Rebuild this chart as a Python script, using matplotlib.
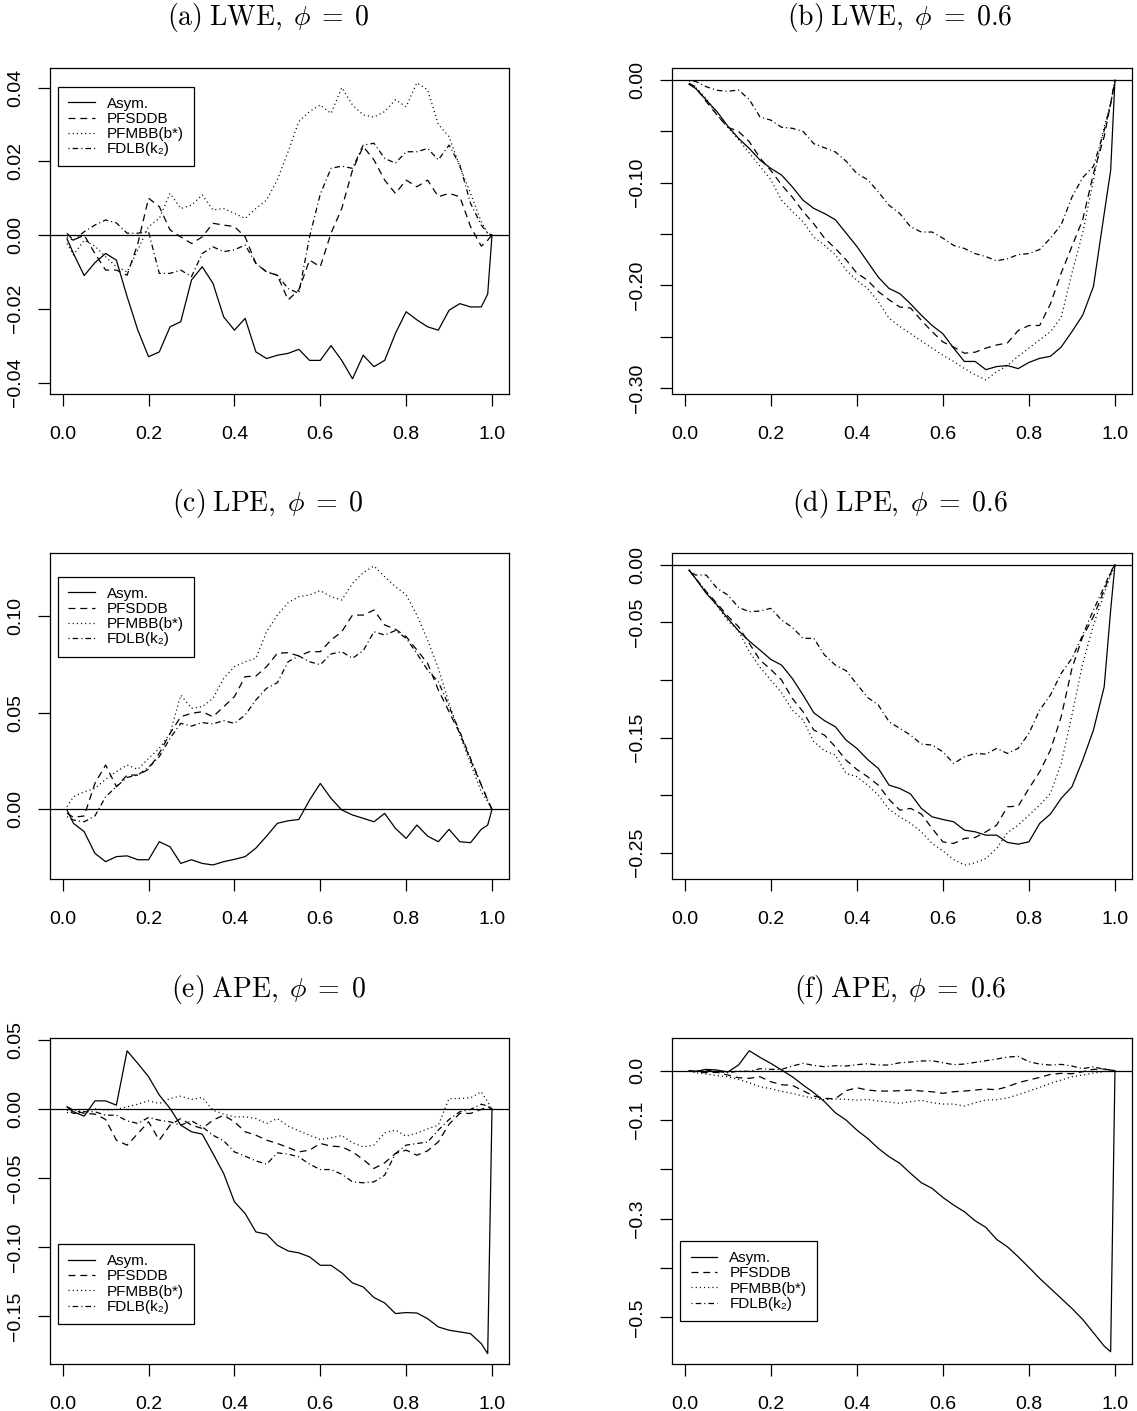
import matplotlib
matplotlib.use('Agg')
import matplotlib.pyplot as plt

plt.rcParams['font.family'] = ['Liberation Sans', 'DejaVu Sans']
plt.rcParams['lines.scale_dashes'] = False

# grid of x values the curves were read at
x = [0.01, 0.025, 0.05, 0.075, 0.1, 0.125, 0.15, 0.175, 0.2, 0.225, 0.25, 0.275, 0.3, 0.325,
     0.35, 0.375, 0.4, 0.425, 0.45, 0.475, 0.5, 0.525, 0.55, 0.575, 0.6, 0.625, 0.65, 0.675,
     0.7, 0.725, 0.75, 0.775, 0.8, 0.825, 0.85, 0.875, 0.9, 0.925, 0.95, 0.975, 0.99, 1.0]

labels = ['Asym.', 'PFSDDB', 'PFMBB(b*)', 'FDLB(k\u2082)']

# (a) LWE, phi = 0
lwe0_asym = [-0.001, -0.005, -0.011, -0.0075, -0.005, -0.0068, -0.0167, -0.0258, -0.033, -0.0317, -0.0249,
             -0.0235, -0.0122, -0.0086, -0.0131, -0.0222, -0.0258, -0.0226, -0.0317, -0.0335, -0.0326,
             -0.0321, -0.031, -0.034, -0.034, -0.030, -0.034, -0.039, -0.0326, -0.0357, -0.034, -0.0267,
             -0.0208, -0.023, -0.0249, -0.0258, -0.0204, -0.0186, -0.0195, -0.0195, -0.016, 0.0]
lwe0_sdd = [0.0005, -0.0014, 0.0, -0.005, -0.0095, -0.0095, -0.0109, -0.0023, 0.010, 0.0077, 0.0014,
            -0.0005, -0.0023, -0.0005, 0.0032, 0.0027, 0.0023, -0.0005, -0.0077, -0.010, -0.0109,
            -0.0176, -0.0149, -0.0068, -0.0086, 0.0005, 0.0072, 0.0176, 0.024, 0.0204, 0.0149, 0.0113,
            0.0149, 0.0131, 0.0149, 0.0104, 0.0113, 0.0104, 0.0023, -0.003, -0.0014, 0.0]
lwe0_mbb = [-0.0023, -0.0054, -0.0014, -0.003, -0.0059, -0.0086, -0.010, -0.004, 0.0023, 0.0045, 0.0113,
            0.0072, 0.0081, 0.0109, 0.0068, 0.0072, 0.0059, 0.0045, 0.0072, 0.0095, 0.015,
            0.0226, 0.0308, 0.0335, 0.0353, 0.033, 0.040, 0.0353, 0.0326, 0.032, 0.0335, 0.0367,
            0.0348, 0.0413, 0.0394, 0.030, 0.0267, 0.0186, 0.0113, 0.0036, 0.0005, 0.0]
lwe0_dlb = [-0.0005, -0.0014, 0.0009, 0.0027, 0.0041, 0.0033, 0.0005, 0.0005, 0.0009, -0.0104, -0.0104,
            -0.0095, -0.0113, -0.005, -0.0032, -0.0045, -0.004, -0.0027, -0.0077, -0.010, -0.0109,
            -0.0145, -0.0158, -0.0005, 0.0111, 0.0181, 0.0187, 0.0181, 0.0244, 0.0249, 0.0208, 0.0195,
            0.0226, 0.0226, 0.0235, 0.0204, 0.0244, 0.019, 0.0086, 0.0027, 0.0005, 0.0]

# (b) LWE, phi = 0.6
lwe6_asym = [-0.0042, -0.0081, -0.0195, -0.0308, -0.0448, -0.0568, -0.0666, -0.078, -0.086, -0.0925, -0.104,
             -0.117, -0.125, -0.130, -0.136, -0.149, -0.162, -0.177, -0.192, -0.203, -0.208,
             -0.218, -0.229, -0.239, -0.247, -0.261, -0.274, -0.274, -0.282, -0.279, -0.278, -0.281,
             -0.275, -0.271, -0.269, -0.260, -0.245, -0.229, -0.201, -0.130, -0.088, 0.0]
lwe6_sdd = [-0.0032, -0.0065, -0.021, -0.034, -0.046, -0.050, -0.060, -0.076, -0.088, -0.102, -0.114,
            -0.128, -0.140, -0.154, -0.164, -0.175, -0.188, -0.195, -0.206, -0.214, -0.221,
            -0.222, -0.234, -0.245, -0.255, -0.260, -0.266, -0.265, -0.261, -0.258, -0.256, -0.244,
            -0.239, -0.239, -0.218, -0.188, -0.162, -0.136, -0.091, -0.055, -0.023, 0.0]
lwe6_mbb = [-0.0032, -0.007, -0.018, -0.034, -0.046, -0.058, -0.071, -0.084, -0.097, -0.117, -0.128,
            -0.138, -0.153, -0.161, -0.170, -0.185, -0.195, -0.203, -0.216, -0.232, -0.240,
            -0.247, -0.254, -0.261, -0.268, -0.274, -0.281, -0.287, -0.292, -0.284, -0.278, -0.269,
            -0.261, -0.253, -0.245, -0.231, -0.188, -0.149, -0.097, -0.045, -0.023, 0.0]
lwe6_dlb = [-0.001, -0.0013, -0.0065, -0.010, -0.011, -0.0097, -0.019, -0.036, -0.039, -0.046, -0.047,
            -0.050, -0.062, -0.066, -0.070, -0.079, -0.091, -0.097, -0.109, -0.122, -0.130,
            -0.143, -0.148, -0.148, -0.154, -0.161, -0.164, -0.169, -0.172, -0.176, -0.174, -0.170,
            -0.169, -0.165, -0.154, -0.141, -0.114, -0.095, -0.084, -0.049, -0.023, 0.0]

# (c) LPE, phi = 0
lpe0_asym = [-0.0003, -0.0072, -0.0115, -0.0227, -0.027, -0.0244, -0.024, -0.026, -0.026, -0.0167, -0.0193,
             -0.0279, -0.026, -0.0279, -0.0287, -0.027, -0.0258, -0.0244, -0.020, -0.0138, -0.0072,
             -0.0059, -0.0052, 0.0048, 0.0134, 0.0057, -0.0003, -0.0029, -0.0046, -0.0064, -0.0021, -0.0098,
             -0.015, -0.0081, -0.0138, -0.0167, -0.0103, -0.0167, -0.0172, -0.0103, -0.0081, 0.0]
lpe0_sdd = [-0.002, -0.0041, -0.0034, 0.0134, 0.0229, 0.0117, 0.0177, 0.0177, 0.0207, 0.029, 0.0392,
            0.0478, 0.0496, 0.0504, 0.0478, 0.053, 0.0582, 0.0685, 0.0688, 0.0737, 0.0806,
            0.0809, 0.0792, 0.0814, 0.0814, 0.0874, 0.0917, 0.1003, 0.1003, 0.1029, 0.0952, 0.093,
            0.0892, 0.0823, 0.0754, 0.0616, 0.0504, 0.0392, 0.0255, 0.0126, 0.0048, 0.0]
lpe0_mbb = [0.0014, 0.0065, 0.0091, 0.0108, 0.0155, 0.0194, 0.0229, 0.0207, 0.0263, 0.0315, 0.0392,
            0.059, 0.0522, 0.053, 0.0573, 0.0676, 0.0737, 0.0762, 0.078, 0.0917, 0.1003,
            0.1067, 0.1098, 0.1107, 0.1129, 0.1098, 0.1081, 0.1167, 0.1222, 0.1256, 0.1201, 0.115,
            0.1107, 0.1003, 0.0874, 0.0728, 0.0547, 0.0384, 0.0238, 0.0091, 0.004, 0.0]
lpe0_dlb = [-0.0038, -0.0055, -0.0064, -0.0034, 0.0065, 0.0117, 0.0165, 0.0177, 0.0217, 0.0272, 0.0367,
            0.0444, 0.043, 0.0448, 0.0441, 0.0458, 0.0444, 0.0487, 0.0565, 0.0625, 0.0654,
            0.0762, 0.0792, 0.0762, 0.0747, 0.0802, 0.0814, 0.078, 0.0819, 0.0917, 0.09, 0.0923,
            0.0883, 0.0805, 0.0719, 0.0659, 0.053, 0.0401, 0.0263, 0.0126, 0.0048, 0.0]

# (d) LPE, phi = 0.6
lpe6_asym = [-0.0046, -0.0119, -0.0249, -0.035, -0.0466, -0.0573, -0.0663, -0.0741, -0.0822, -0.0871, -0.0987,
             -0.1131, -0.1285, -0.1354, -0.1406, -0.1522, -0.1594, -0.169, -0.1768, -0.1913, -0.1942,
             -0.199, -0.2115, -0.2188, -0.2211, -0.2231, -0.2303, -0.2318, -0.2347, -0.2347, -0.241, -0.2425,
             -0.2405, -0.2245, -0.2164, -0.2028, -0.1927, -0.1696, -0.1435, -0.1059, -0.0394, 0.0]
lpe6_sdd = [-0.0046, -0.0119, -0.0234, -0.0336, -0.0446, -0.0538, -0.0683, -0.0828, -0.0909, -0.1001, -0.116,
            -0.1276, -0.1435, -0.1479, -0.158, -0.1696, -0.1777, -0.184, -0.1913, -0.2037, -0.213,
            -0.2115, -0.2164, -0.2289, -0.2405, -0.2419, -0.2376, -0.2367, -0.2318, -0.226, -0.2101, -0.2095,
            -0.1942, -0.1797, -0.1609, -0.1319, -0.09, -0.0625, -0.0451, -0.022, -0.0075, 0.0]
lpe6_mbb = [-0.0046, -0.0119, -0.0234, -0.0359, -0.0486, -0.0576, -0.0755, -0.0891, -0.1001, -0.1111, -0.1262,
            -0.1348, -0.1536, -0.1615, -0.1652, -0.1811, -0.184, -0.1913, -0.2, -0.2124, -0.2188,
            -0.2245, -0.2318, -0.2419, -0.2483, -0.2558, -0.2607, -0.2587, -0.2549, -0.2462, -0.2326, -0.226,
            -0.2173, -0.2086, -0.1985, -0.1725, -0.1305, -0.0856, -0.0524, -0.0249, -0.009, 0.0]
lpe6_dlb = [-0.0052, -0.009, -0.009, -0.0205, -0.0263, -0.037, -0.0408, -0.0402, -0.0379, -0.048, -0.0544,
            -0.0639, -0.0639, -0.0784, -0.0871, -0.092, -0.1036, -0.1152, -0.1218, -0.1363, -0.1421,
            -0.1479, -0.1557, -0.1565, -0.1623, -0.1725, -0.1667, -0.1638, -0.1644, -0.1594, -0.1638, -0.1594,
            -0.1464, -0.1262, -0.1131, -0.0943, -0.0813, -0.0611, -0.0394, -0.0191, -0.0061, 0.0]

# (e) APE, phi = 0
ape0_asym = [0.0017, -0.0019, -0.0051, 0.006, 0.006, 0.0029, 0.0423, 0.0331, 0.0235, 0.0102, 0.0005,
             -0.0116, -0.0164, -0.0181, -0.0322, -0.0467, -0.0672, -0.0757, -0.089, -0.0907, -0.0987,
             -0.1028, -0.1042, -0.1071, -0.1132, -0.1132, -0.1187, -0.126, -0.1289, -0.1366, -0.1405, -0.1482,
             -0.1475, -0.1478, -0.1519, -0.1579, -0.1603, -0.1615, -0.1628, -0.17, -0.1773, 0.0]
ape0_sdd = [0.0017, -0.0007, -0.0031, -0.0036, -0.0075, -0.0225, -0.0261, -0.0177, -0.0092, -0.0225, -0.0116,
            -0.0068, -0.0116, -0.014, -0.008, -0.0044, -0.0092, -0.0164, -0.0189, -0.0225, -0.0249,
            -0.0278, -0.031, -0.0297, -0.0249, -0.0268, -0.0273, -0.031, -0.0365, -0.043, -0.0389, -0.0322,
            -0.0297, -0.0334, -0.0302, -0.0237, -0.0109, -0.0031, -0.0031, -0.0002, 0.0017, 0.0]
ape0_mbb = [-0.0027, -0.0007, -0.0019, 0.0002, -0.0007, -0.0002, 0.0017, 0.0036, 0.006, 0.0041, 0.0077,
            0.0094, 0.007, 0.0085, -0.0007, -0.0036, -0.0056, -0.0056, -0.0068, -0.0104, -0.0068,
            -0.0123, -0.0157, -0.0189, -0.022, -0.0208, -0.0191, -0.0244, -0.0273, -0.0261, -0.0172, -0.0152,
            -0.0196, -0.0174, -0.0143, -0.0116, 0.0077, 0.0077, 0.0082, 0.0126, 0.0053, 0.0]
ape0_dlb = [-0.0007, -0.0031, -0.0019, -0.0019, -0.0044, -0.0044, -0.0085, -0.0104, -0.006, -0.008, -0.0092,
            -0.0116, -0.0085, -0.0128, -0.0189, -0.023, -0.031, -0.0341, -0.0375, -0.0399, -0.0317,
            -0.0326, -0.0346, -0.0399, -0.0438, -0.0438, -0.0472, -0.0527, -0.0534, -0.0527, -0.0479, -0.0322,
            -0.0261, -0.0249, -0.0239, -0.0152, -0.0075, -0.0019, -0.0002, 0.0036, 0.0022, 0.0]

# (f) APE, phi = 0.6
ape6_asym = [0.0, -0.0014, 0.0027, 0.0014, -0.0027, 0.0115, 0.0405, 0.027, 0.0149, 0.0014, -0.0122,
             -0.029, -0.0446, -0.0628, -0.0851, -0.1, -0.1203, -0.1372, -0.1574, -0.1743, -0.1878,
             -0.2081, -0.227, -0.2385, -0.2568, -0.2723, -0.2858, -0.3041, -0.3176, -0.3419, -0.3568, -0.377,
             -0.3986, -0.4209, -0.4412, -0.4615, -0.4818, -0.5041, -0.5311, -0.5581, -0.5696, 0.0]
ape6_sdd = [0.0, -0.002, -0.004, -0.0034, -0.0088, -0.0142, -0.0155, -0.0122, -0.0223, -0.0284, -0.0297,
            -0.0405, -0.0514, -0.0561, -0.0568, -0.0405, -0.0345, -0.0392, -0.0412, -0.0412, -0.0405,
            -0.0392, -0.0412, -0.0426, -0.0459, -0.0426, -0.0412, -0.0392, -0.0372, -0.0385, -0.0324, -0.0243,
            -0.0189, -0.0135, -0.0074, -0.0054, -0.0061, -0.002, 0.0027, 0.0034, 0.0014, 0.0]
ape6_mbb = [0.0, -0.004, -0.0068, -0.0101, -0.0122, -0.0176, -0.0243, -0.0324, -0.0365, -0.0419, -0.0459,
            -0.0514, -0.0561, -0.0588, -0.0574, -0.0581, -0.0595, -0.0581, -0.0615, -0.0635, -0.0662,
            -0.0628, -0.0601, -0.0649, -0.0676, -0.0676, -0.0716, -0.0649, -0.0595, -0.0588, -0.0554, -0.0486,
            -0.0412, -0.0338, -0.0257, -0.0189, -0.0122, -0.0088, -0.0047, -0.002, 0.0007, 0.0]
ape6_dlb = [0.0, -0.0014, 0.0014, -0.0014, -0.0041, -0.0007, -0.0014, 0.0041, 0.0027, 0.0027, 0.0095,
            0.0149, 0.0108, 0.0081, 0.0101, 0.0095, 0.0122, 0.0142, 0.0115, 0.0115, 0.0162,
            0.0176, 0.0196, 0.0203, 0.0162, 0.0122, 0.0135, 0.0169, 0.0203, 0.0236, 0.0277, 0.0291,
            0.0182, 0.0135, 0.0115, 0.0128, 0.0095, 0.0041, 0.0081, 0.0027, 0.0014, 0.0]

W, H = 1137, 1411
LW = 0.9
line_styles = ['-', (0, (5, 3.5)), (0, (0.8, 2.2)), (0, (0.8, 2.2, 4, 2.2))]
MINUS = '\u2212'


def fmt(v, nd):
    s = '%.*f' % (nd, abs(v))
    return (MINUS + s) if v < 0 else s


def draw_panel(rect, title, title_xy, series, ylim, yticks, ylabeled, nd, leg_loc, leg_anchor):
    # rect in pixels: left, top, right, bottom
    l, t, r, b = rect
    ax = fig.add_axes([l / W, 1 - b / H, (r - l) / W, (b - t) / H])
    for ys, ls, lab in zip(series, line_styles, labels):
        ax.plot(x, ys, color='black', lw=LW, linestyle=ls, label=lab)
    ax.axhline(0, color='black', lw=LW)

    ax.set_xlim(-0.0296, 1.0396)
    ax.set_ylim(*ylim)
    ax.set_xticks([0.0, 0.2, 0.4, 0.6, 0.8, 1.0])
    ax.set_xticklabels(['0.0', '0.2', '0.4', '0.6', '0.8', '1.0'])
    ax.set_yticks(yticks)
    ax.set_yticklabels([fmt(v, nd) if v in ylabeled else '' for v in yticks])
    ax.tick_params(direction='out', length=8.6, width=LW, labelsize=14)
    ax.tick_params(axis='x', pad=14.5)
    ax.tick_params(axis='y', labelrotation=90, pad=10)
    for lab in ax.get_yticklabels():
        lab.set_va('center')
    for sp in ax.spines.values():
        sp.set_linewidth(LW)

    if leg_loc is not None:
        leg = ax.legend(loc=leg_loc, bbox_to_anchor=leg_anchor, borderaxespad=0, fontsize=11,
                        frameon=True, fancybox=False, framealpha=1, edgecolor='black',
                        handlelength=1.75, handletextpad=0.8, labelspacing=0.08, borderpad=0.66)
        leg.get_frame().set_linewidth(LW)

    fig.text(title_xy[0] / W, 1 - title_xy[1] / H, title, math_fontfamily='cm',
             fontsize=20, ha='center', va='center')
    return ax


fig = plt.figure(figsize=(W / 100, H / 100), dpi=100)

LEFT = (50, 509)
RIGHT = (672, 1132)
ROWS = [(67.7, 394.3), (552.7, 879.3), (1037.7, 1364.3)]

draw_panel((LEFT[0], ROWS[0][0], LEFT[1], ROWS[0][1]), r'$\mathrm{(a)\;LWE,}\;\phi\;=\;0$', (268, 18),
           [lwe0_asym, lwe0_sdd, lwe0_mbb, lwe0_dlb], (-0.0432, 0.0454),
           [-0.04, -0.02, 0.0, 0.02, 0.04], [-0.04, -0.02, 0.0, 0.02, 0.04], 2,
           'upper left', (0.0174, 0.942))

draw_panel((RIGHT[0], ROWS[0][0], RIGHT[1], ROWS[0][1]), r'$\mathrm{(b)\;LWE,}\;\phi\;=\;0.6$', (900, 18),
           [lwe6_asym, lwe6_sdd, lwe6_mbb, lwe6_dlb], (-0.306, 0.012),
           [-0.30, -0.25, -0.20, -0.15, -0.10, -0.05, 0.0], [-0.30, -0.20, -0.10, 0.0], 2,
           None, None)

draw_panel((LEFT[0], ROWS[1][0], LEFT[1], ROWS[1][1]), r'$\mathrm{(c)\;LPE,}\;\phi\;=\;0$', (268, 503),
           [lpe0_asym, lpe0_sdd, lpe0_mbb, lpe0_dlb], (-0.0361, 0.1325),
           [0.0, 0.05, 0.10], [0.0, 0.05, 0.10], 2,
           'upper left', (0.0174, 0.9265))

draw_panel((RIGHT[0], ROWS[1][0], RIGHT[1], ROWS[1][1]), r'$\mathrm{(d)\;LPE,}\;\phi\;=\;0.6$', (900, 503),
           [lpe6_asym, lpe6_sdd, lpe6_mbb, lpe6_dlb], (-0.273, 0.0104),
           [-0.25, -0.20, -0.15, -0.10, -0.05, 0.0], [-0.25, -0.15, -0.05, 0.0], 2,
           None, None)

draw_panel((LEFT[0], ROWS[2][0], LEFT[1], ROWS[2][1]), r'$\mathrm{(e)\;APE,}\;\phi\;=\;0$', (268, 990),
           [ape0_asym, ape0_sdd, ape0_mbb, ape0_dlb], (-0.185, 0.0518),
           [-0.15, -0.10, -0.05, 0.0, 0.05], [-0.15, -0.10, -0.05, 0.0, 0.05], 2,
           'lower left', (0.0174, 0.1234))

draw_panel((RIGHT[0], ROWS[2][0], RIGHT[1], ROWS[2][1]), r'$\mathrm{(f)\;APE,}\;\phi\;=\;0.6$', (900, 990),
           [ape6_asym, ape6_sdd, ape6_mbb, ape6_dlb], (-0.595, 0.0669),
           [-0.5, -0.4, -0.3, -0.2, -0.1, 0.0], [-0.5, -0.3, -0.1, 0.0], 1,
           'lower left', (0.0183, 0.1326))

plt.savefig('out.png', dpi=100)
